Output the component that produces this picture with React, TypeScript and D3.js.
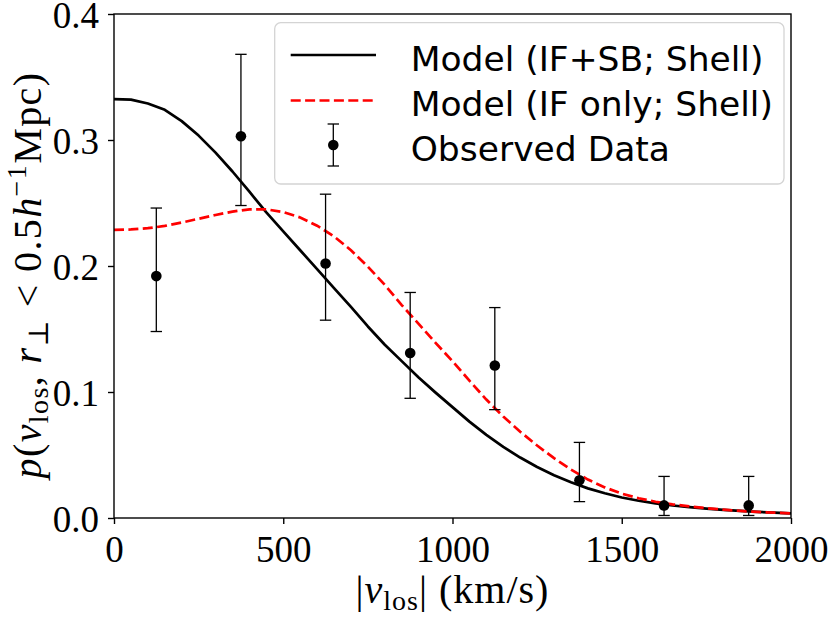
import * as d3 from 'd3';
import { useEffect, useRef } from 'react';

const vGrid = [
  0, 50, 100, 150, 200, 250, 300, 350, 400, 450, 500, 550, 600, 650, 700, 750, 800, 850, 900, 950,
  1000, 1050, 1100, 1150, 1200, 1250, 1300, 1350, 1400, 1450, 1500, 1550, 1600, 1650, 1700, 1750,
  1800, 1850, 1900, 1950, 2000,
];
const modelIfSb = [
  0.3325, 0.332, 0.329, 0.324, 0.315, 0.3035, 0.29, 0.275, 0.259, 0.2425, 0.2275, 0.2125, 0.1975,
  0.1825, 0.1675, 0.152, 0.1375, 0.1245, 0.1115, 0.0995, 0.088, 0.0765, 0.066, 0.0565, 0.048,
  0.0405, 0.034, 0.0283, 0.0235, 0.0196, 0.0163, 0.0137, 0.0116, 0.0099, 0.0086, 0.0074, 0.0064,
  0.0056, 0.0049, 0.0043, 0.0037,
];
const modelIfOnly = [
  0.2286, 0.229, 0.23, 0.2318, 0.2345, 0.2375, 0.2405, 0.2432, 0.245, 0.245, 0.2428, 0.2385,
  0.232, 0.2235, 0.2125, 0.1995, 0.185, 0.169, 0.154, 0.139, 0.1245, 0.109, 0.094, 0.0805, 0.0685,
  0.0575, 0.0475, 0.0385, 0.0305, 0.0243, 0.0193, 0.0157, 0.0129, 0.0108, 0.0092, 0.0078, 0.0066,
  0.0056, 0.0048, 0.0042, 0.0037,
];

// observed data with error bars
const binCenters = [125, 375, 625, 875, 1125, 1375, 1625, 1875];
const observed = [0.192, 0.303, 0.202, 0.131, 0.121, 0.030, 0.010, 0.010];
const observedLow = [0.148, 0.248, 0.157, 0.095, 0.086, 0.013, 0.002, 0.002];
const observedHigh = [0.246, 0.368, 0.257, 0.179, 0.167, 0.060, 0.033, 0.033];

const xTicks = [0, 500, 1000, 1500, 2000];
const yTicks = [0, 0.1, 0.2, 0.3, 0.4];
const legendLabels = ['Model (IF+SB; Shell)', 'Model (IF only; Shell)', 'Observed Data'];

const SERIF = "'Liberation Serif', 'DejaVu Serif', serif";
const SANS = "'DejaVu Sans', sans-serif";

export default function App() {
  const ref = useRef<SVGSVGElement | null>(null);

  useEffect(() => {
    if (!ref.current) return;
    const svg = d3.select(ref.current);
    svg.selectAll('*').remove();

    const width = 830;
    const height = 618;
    const plot = { left: 114, right: 791, top: 14, bottom: 518 };
    svg.attr('width', width).attr('height', height).attr('viewBox', `0 0 ${width} ${height}`);

    const x = d3.scaleLinear().domain([0, 2000]).range([plot.left, plot.right]);
    const y = d3.scaleLinear().domain([0, 0.4]).range([plot.bottom, plot.top]);

    svg.append('defs')
      .append('clipPath')
      .attr('id', 'plot-clip')
      .append('rect')
      .attr('x', plot.left)
      .attr('y', plot.top)
      .attr('width', plot.right - plot.left)
      .attr('height', plot.bottom - plot.top);

    // Curves
    const line = d3
      .line<number>()
      .x((_, i) => x(vGrid[i]))
      .y((d) => y(d));

    const curves = svg.append('g').attr('clip-path', 'url(#plot-clip)');
    curves
      .append('path')
      .attr('d', line(modelIfSb))
      .attr('fill', 'none')
      .attr('stroke', '#000')
      .attr('stroke-width', 2.7)
      .attr('stroke-linejoin', 'round');
    curves
      .append('path')
      .attr('d', line(modelIfOnly))
      .attr('fill', 'none')
      .attr('stroke', '#ff0000')
      .attr('stroke-width', 2.7)
      .attr('stroke-dasharray', '10,4.4');

    // Error bars
    const cap = 5.7;
    const bars = svg.append('g').selectAll('g').data(binCenters).enter().append('g');
    bars
      .append('line')
      .attr('x1', (d) => x(d))
      .attr('x2', (d) => x(d))
      .attr('y1', (_, i) => y(observedLow[i]))
      .attr('y2', (_, i) => y(observedHigh[i]))
      .attr('stroke', '#000')
      .attr('stroke-width', 1.3);
    [observedLow, observedHigh].forEach((arr) => {
      bars
        .append('line')
        .attr('x1', (d) => x(d) - cap)
        .attr('x2', (d) => x(d) + cap)
        .attr('y1', (_, i) => y(arr[i]))
        .attr('y2', (_, i) => y(arr[i]))
        .attr('stroke', '#000')
        .attr('stroke-width', 1.3);
    });
    bars
      .append('circle')
      .attr('cx', (d) => x(d))
      .attr('cy', (_, i) => y(observed[i]))
      .attr('r', 5.3)
      .attr('fill', '#000');

    // Axes
    const xAxis = svg
      .append('g')
      .attr('transform', `translate(0, ${plot.bottom})`)
      .call(d3.axisBottom(x).tickValues(xTicks).tickSize(6).tickSizeOuter(0).tickPadding(11.7).tickFormat(d3.format('d')));
    const yAxis = svg
      .append('g')
      .attr('transform', `translate(${plot.left}, 0)`)
      .call(d3.axisLeft(y).tickValues(yTicks).tickSize(6).tickSizeOuter(0).tickPadding(9).tickFormat(d3.format('.1f')));
    [xAxis, yAxis].forEach((ax) => {
      ax.attr('font-family', SERIF).attr('font-size', 37);
      ax.selectAll('line').attr('stroke-width', 1.4);
      ax.select('.domain').remove();
      ax.selectAll('text').attr('fill', '#000');
    });
    yAxis.selectAll('text').attr('dy', '0.36em');

    // Frame
    svg
      .append('rect')
      .attr('x', plot.left)
      .attr('y', plot.top)
      .attr('width', plot.right - plot.left)
      .attr('height', plot.bottom - plot.top)
      .attr('fill', 'none')
      .attr('stroke', '#000')
      .attr('stroke-width', 1.4);

    // Legend
    const legend = svg.append('g');
    legend
      .append('rect')
      .attr('x', 274.7)
      .attr('y', 22.7)
      .attr('width', 509.3)
      .attr('height', 161.3)
      .attr('rx', 6)
      .attr('fill', '#fff')
      .attr('fill-opacity', 0.8)
      .attr('stroke', '#d4d4d4')
      .attr('stroke-width', 1.3);
    const rowY = [55, 100.5, 145];
    legend
      .append('line')
      .attr('x1', 290.7)
      .attr('x2', 376)
      .attr('y1', rowY[0])
      .attr('y2', rowY[0])
      .attr('stroke', '#000')
      .attr('stroke-width', 2.7);
    legend
      .append('line')
      .attr('x1', 290.7)
      .attr('x2', 376)
      .attr('y1', rowY[1])
      .attr('y2', rowY[1])
      .attr('stroke', '#ff0000')
      .attr('stroke-width', 2.7)
      .attr('stroke-dasharray', '10,4.4');
    const lx = 333.3;
    legend.append('line').attr('x1', lx).attr('x2', lx).attr('y1', 124).attr('y2', 166)
      .attr('stroke', '#000').attr('stroke-width', 1.3);
    [124, 166].forEach((cy) => {
      legend.append('line').attr('x1', lx - cap).attr('x2', lx + cap).attr('y1', cy).attr('y2', cy)
        .attr('stroke', '#000').attr('stroke-width', 1.3);
    });
    legend.append('circle').attr('cx', lx).attr('cy', rowY[2]).attr('r', 5.3).attr('fill', '#000');
    legendLabels.forEach((label, i) => {
      legend
        .append('text')
        .attr('x', 410.7)
        .attr('y', rowY[i] + 15.7)
        .attr('font-family', SANS)
        .attr('font-size', 34.5)
        .attr('fill', '#000')
        .text(label);
    });

    // X label: |v_los| (km/s)
    const xl = svg
      .append('text')
      .attr('x', (plot.left + plot.right) / 2)
      .attr('y', 603)
      .attr('text-anchor', 'middle')
      .attr('font-family', SERIF)
      .attr('font-size', 40)
      .attr('letter-spacing', 1)
      .attr('fill', '#000');
    xl.append('tspan').text('|');
    xl.append('tspan').attr('font-style', 'italic').text('v');
    xl.append('tspan').attr('font-size', 28).attr('dy', 7).text('los');
    xl.append('tspan').attr('dy', -7).text('| (km/s)');

    // Y label: p(v_los, r_perp < 0.5 h^-1 Mpc)
    const yl = svg
      .append('text')
      .attr('transform', `translate(41, 275) rotate(-90)`)
      .attr('text-anchor', 'middle')
      .attr('font-family', SERIF)
      .attr('font-size', 40)
      .attr('letter-spacing', 1.4)
      .attr('fill', '#000');
    yl.append('tspan').attr('font-style', 'italic').text('p');
    yl.append('tspan').text('(');
    yl.append('tspan').attr('font-style', 'italic').text('v');
    yl.append('tspan').attr('font-size', 28).attr('dy', 7).text('los');
    yl.append('tspan').attr('dy', -7).text(', ');
    yl.append('tspan').attr('font-style', 'italic').text('r');
    yl.append('tspan').attr('font-size', 28).attr('dy', 7).text('\u22A5');
    yl.append('tspan').attr('dy', -7).text(' < 0.5');
    yl.append('tspan').attr('font-style', 'italic').text('h');
    yl.append('tspan').attr('font-size', 28).attr('dy', -15).text('\u22121');
    yl.append('tspan').attr('dy', 15).text('Mpc)');
  }, []);

  return (
    <svg
      ref={ref}
      style={{ position: 'absolute', left: 0, top: 0, display: 'block', background: '#fff' }}
      role="img"
      aria-label="Line-of-sight velocity distribution"
    />
  );
}
